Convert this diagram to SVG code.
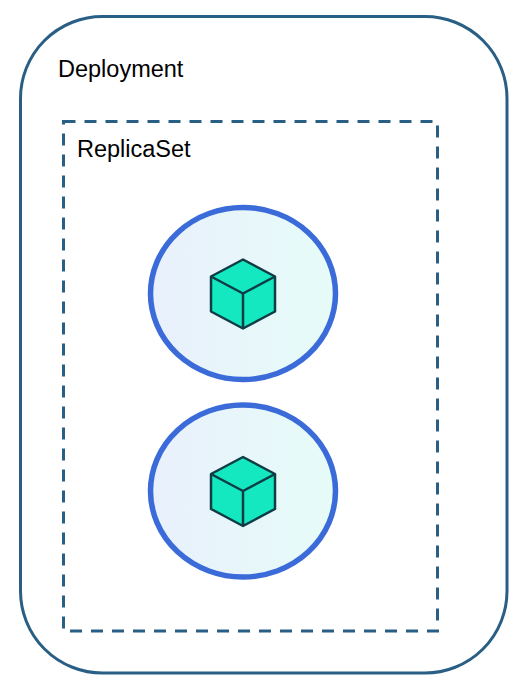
<svg xmlns="http://www.w3.org/2000/svg" width="530" height="689" viewBox="0 0 530 689">
<style>
.t{font-family:"Liberation Sans",Arial,sans-serif;font-size:23.5px;fill:#000}
.pod{fill:url(#podFill);stroke:#3a6bd9;stroke-width:5.5}
.cube{fill:#14e8c0;stroke:#0f3d46;stroke-width:2.5;stroke-linejoin:round}
</style>
<defs>
<linearGradient id="podFill" x1="0" y1="0" x2="1" y2="0">
<stop offset="0" stop-color="#e9f0fc"/>
<stop offset="1" stop-color="#e6fcf8"/>
</linearGradient>
<g id="cube">
<path class="cube" d="M0,-34 L32,-17 L32,18 L0,35 L-32,18 L-32,-17 Z"/>
<path class="cube" style="fill:none" d="M-32,-17 L0,0 L32,-17 M0,0 L0,35"/>
</g>
</defs>
<rect width="530" height="689" fill="#fff"/>
<g id="deployment">
<rect x="20.5" y="16.5" width="486.5" height="656.5" rx="82" ry="82" fill="#fff" stroke="#2a5f85" stroke-width="3"/>
<text class="t" x="58" y="77">Deployment</text>
</g>
<g id="replicaset">
<rect x="63.5" y="121.5" width="374" height="509.5" fill="#fff" stroke="#2a5f85" stroke-width="3" stroke-dasharray="12 9"/>
<text class="t" x="77" y="157">ReplicaSet</text>
</g>
<g id="pod-1">
<ellipse class="pod" cx="243" cy="293.5" rx="92.5" ry="86"/>
<use href="#cube" x="243" y="293.5"/>
</g>
<g id="pod-2">
<ellipse class="pod" cx="243" cy="491" rx="92.5" ry="86"/>
<use href="#cube" x="243" y="491"/>
</g>
<g id="connectors"></g>
</svg>
